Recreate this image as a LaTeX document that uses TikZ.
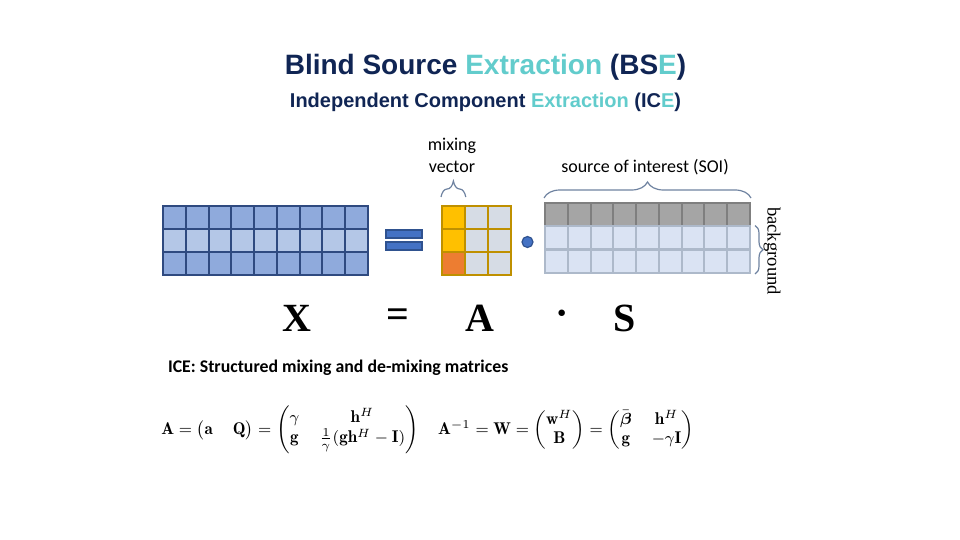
\documentclass[tikz,border=0pt]{standalone}
\usepackage{amsmath}
\usepackage{fontspec}
\newfontfamily\headfont{Liberation Sans}
\newfontfamily\labfont{Carlito}
\newfontfamily\serfont{Liberation Serif}
\usetikzlibrary{positioning, decorations.pathreplacing, calc}

\definecolor{navy}{RGB}{16,37,84}
\definecolor{cyanx}{RGB}{98,204,204}
\definecolor{xdark}{RGB}{143,170,220}
\definecolor{xlight}{RGB}{180,199,231}
\definecolor{xline}{RGB}{47,74,128}
\definecolor{agold}{RGB}{255,192,0}
\definecolor{aorange}{RGB}{237,125,49}
\definecolor{agray}{RGB}{214,220,229}
\definecolor{aline}{RGB}{191,144,0}
\definecolor{sgray}{RGB}{165,165,165}
\definecolor{sdark}{RGB}{127,127,127}
\definecolor{slight}{RGB}{218,227,243}
\definecolor{sline}{RGB}{173,185,202}
\definecolor{eqblue}{RGB}{68,114,196}
\definecolor{eqline}{RGB}{47,82,143}
\definecolor{brline}{RGB}{110,130,160}

\tikzset{
  cell/.style={rectangle, draw, anchor=north west, inner sep=0pt,
               minimum width=11.39pt, minimum height=11.5pt, line width=1pt},
  xcell/.style={cell, draw=xline, fill=xdark},
  acell/.style={cell, draw=aline, fill=agray},
  scell/.style={cell, draw=sline, fill=slight},
  bar/.style={rectangle, draw=eqline, fill=eqblue, line width=0.6pt,
              minimum width=18pt, minimum height=4pt, inner sep=0pt},
  brc/.style={decorate, decoration={brace, amplitude=#1}, draw=brline, line width=0.6pt},
  brc/.default=8pt,
  lbl/.style={font=\labfont\fontsize{9}{11}\selectfont, align=center},
  big/.style={font=\serfont\bfseries\fontsize{20}{24}\selectfont},
  eqn/.style={font=\fontsize{8.5}{10}\selectfont},
}

\begin{document}
\begin{tikzpicture}[x=0.5pt, y=-0.5pt]
  \useasboundingbox (0,0) rectangle (960,540);

  % titles
  \node[font=\headfont\bfseries\fontsize{14}{16}\selectfont, text=navy] (title) at (485.5,67)
    {Blind Source \textcolor{cyanx}{Extraction} (BS\textcolor{cyanx}{E})};
  \node[font=\headfont\bfseries\fontsize{10}{12}\selectfont, text=navy] (subtitle) at (485.5,102)
    {Independent Component \textcolor{cyanx}{Extraction} (IC\textcolor{cyanx}{E})};

  % observed mixtures X
  \foreach \r/\col in {0/xdark,1/xlight,2/xdark}{
    \foreach \c in {0,...,8}{
      \node[xcell, fill=\col] (x-\r-\c) at ({162+\c*22.78},{205+\r*23}) {};
    }
  }

  % equals sign
  \node[bar] (eqtop) at (404,234) {};
  \node[bar] (eqbot) at (404,246) {};

  % mixing matrix A
  \foreach \r/\col in {0/agold,1/agold,2/aorange}{
    \node[acell, fill=\col] (a-\r-0) at (441,{205+\r*23}) {};
    \foreach \c in {1,2}{
      \node[acell] (a-\r-\c) at ({441+\c*23},{205+\r*23}) {};
    }
  }

  % product dot
  \node[circle, draw=eqline, fill=eqblue, line width=0.6pt, minimum size=5.5pt, inner sep=0pt]
    (prod) at (527.5,242) {};

  % sources S
  \foreach \c in {0,...,8}{
    \node[scell, fill=sgray, draw=sdark] (s-0-\c) at ({544+\c*22.78},202) {};
  }
  \foreach \r in {1,2}{
    \foreach \c in {0,...,8}{
      \node[scell] (s-\r-\c) at ({544+\c*22.78},{202+\r*23.5}) {};
    }
  }

  % braces and labels
  \draw[brc=8pt] ([yshift=4pt]a-0-0.north west) -- ([yshift=4pt]a-0-0.north east);
  \node[lbl] (mixlbl) at (452,155) {mixing\\vector};

  \draw[brc=8pt] ([yshift=2pt]s-0-0.north west) -- ([yshift=2pt]s-0-8.north east);
  \node[lbl] (soilbl) at (645,167) {source of interest (SOI)};

  \draw[brc=4pt] ([xshift=2pt]s-1-8.north east) -- ([xshift=2pt]s-2-8.south east);
  \node[rotate=-90, font=\serfont\fontsize{9.3}{11}\selectfont] (bglbl) at (772,251) {background};

  % model
  \node[big] (bigx) at (297,318) {X};
  \node[big] (bigeq) at (398,318) {=};
  \node[big] (biga) at (480,318) {A};
  \node[big] (bigdot) at (562,318) {·};
  \node[big] (bigs) at (625,318) {S};

  % ICE structure
  \node[font=\labfont\bfseries\fontsize{8.9}{10}\selectfont, anchor=west] (icehead) at (161,368)
    {ICE: Structured mixing and de-mixing matrices};

  \node[eqn] (eqa) at (290,430)
    {$\mathbf{A}=\begin{pmatrix}\mathbf{a} & \mathbf{Q}\end{pmatrix}
      =\begin{pmatrix}\gamma & \mathbf{h}^H\\ \mathbf{g} & \frac{1}{\gamma}(\mathbf{g}\mathbf{h}^H-\mathbf{I})\end{pmatrix}$};
  \node[eqn] (eqw) at (566,430)
    {$\mathbf{A}^{-1}=\mathbf{W}=\begin{pmatrix}\mathbf{w}^H\\ \mathbf{B}\end{pmatrix}
      =\begin{pmatrix}\bar{\boldsymbol{\beta}} & \mathbf{h}^H\\ \mathbf{g} & -\gamma\mathbf{I}\end{pmatrix}$};

\end{tikzpicture}
\end{document}
